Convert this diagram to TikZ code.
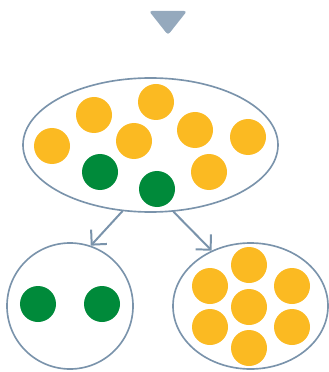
\documentclass[tikz,border=0pt]{standalone}
\usepackage{tikz}
\usetikzlibrary{arrows.meta, shapes.geometric}
\definecolor{setline}{HTML}{7A93AB}
\definecolor{markgray}{HTML}{95A9BD}
\definecolor{goldball}{HTML}{FBBA22}
\definecolor{greenball}{HTML}{008A3A}

\begin{document}
\begin{tikzpicture}[
  x=0.03cm, y=-0.03cm,
  >={Straight Barb[length=3.2mm, width=6.4mm]},
  setnode/.style={draw=setline, line width=1.4pt, ellipse, inner sep=0pt},
  ball/.style={circle, inner sep=0pt, minimum size=1.08cm},
  gold/.style={ball, fill=goldball},
  green/.style={ball, fill=greenball},
  split/.style={->, draw=setline, line width=1.7pt, line cap=round},
  ]
  \useasboundingbox (0,0) rectangle (328,372);

  % marker on top
  \fill[markgray, rounded corners=2.5pt] (149,11) -- (187,11) -- (168,35) -- cycle;

  % whole set
  \node[setnode, minimum width=7.65cm, minimum height=4.02cm] (whole) at (150.5,145) {};
  \foreach \x/\y [count=\i] in {52/146, 94/115, 156/102, 134/141, 195/130, 248/137, 209/172}
    \node[gold] (wg\i) at (\x,\y) {};
  \node[green] (wn1) at (100,172) {};
  \node[green] (wn2) at (157,189) {};

  % green part
  \node[setnode, circle, minimum size=3.78cm] (left) at (70,306) {};
  \node[green] (ln1) at (38,304) {};
  \node[green] (ln2) at (102,304) {};

  % gold part
  \node[setnode, minimum width=4.65cm, minimum height=3.78cm] (right) at (250.5,306) {};
  \foreach \x/\y [count=\i] in {249/265, 210/286, 292/286, 249/307, 210/327, 292/327, 249/348}
    \node[gold] (rg\i) at (\x,\y) {};

  % splitting arrows
  \draw[split] (whole.247) -- (left.71);
  \draw[split] (whole.289) -- (right.125);
\end{tikzpicture}
\end{document}
